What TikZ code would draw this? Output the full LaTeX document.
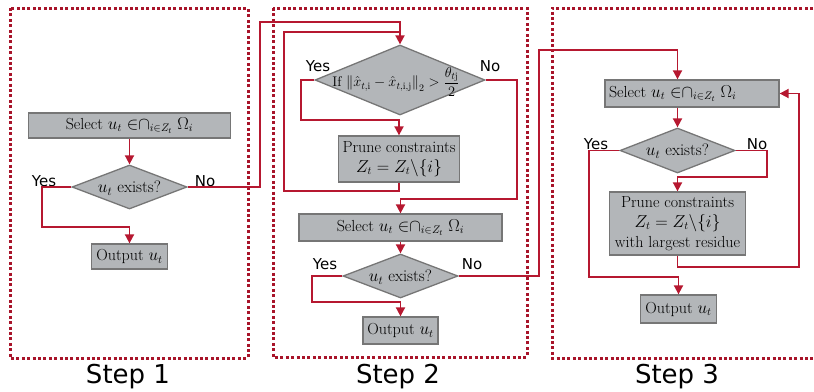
\documentclass[tikz,border=0pt]{standalone}
\usepackage{amsmath}
\usepackage{fontspec}
\newfontfamily\labelfont{DejaVu Sans}
\usetikzlibrary{shapes.geometric,arrows.meta,calc}
\definecolor{boxfill}{RGB}{179,182,185}
\definecolor{boxline}{RGB}{118,118,118}
\definecolor{flowred}{RGB}{182,24,48}
\definecolor{dotred}{RGB}{168,20,42}
\newcommand{\selecttext}{Select $u_t\ {\in}{\cap}_{i\in Z_t}\ \Omega_i$}
\tikzset{
  procbox/.style={draw=boxline, fill=boxfill, line width=1.3pt, inner sep=0pt, align=center, font=\fontsize{16}{20}\selectfont},
  decbox/.style={diamond, draw=boxline, fill=boxfill, line width=1.3pt, inner sep=0pt},
  dectext/.style={font=\fontsize{16.5}{17}\selectfont, inner sep=0pt},
  flow/.style={draw=flowred, line width=1.8pt},
  arr/.style={flow, -{Triangle[length=9pt,width=9pt]}},
  steparea/.style={draw=dotred, line width=3pt, dash pattern=on 3pt off 2.4pt},
  yesno/.style={font=\labelfont\fontsize{15}{16}\selectfont, inner sep=0pt},
  steplabel/.style={font=\labelfont\fontsize{26}{28}\selectfont, inner sep=0pt},
}
\begin{document}
\begin{tikzpicture}[x=1pt,y=-1pt]
\useasboundingbox (0,0) rectangle (814,391);
% step areas
\draw[steparea] (10,8) rectangle (248,358);
\draw[steparea] (273,8) rectangle (527,357);
\draw[steparea] (813,8) -- (552,8) -- (552,358) -- (813,358);
\node[steplabel] (lab1) at (128,377) {Step 1};
\node[steplabel] (lab2) at (398,377) {Step 2};
\node[steplabel] (lab3) at (677,377) {Step 3};

% ---- Step 1
\node[procbox, minimum width=202pt, minimum height=25pt] (s1sel) at (129.5,125.5) {\selecttext};
\node[decbox, minimum width=115pt, minimum height=44pt] (d1) at (129.5,187) {};
\node[dectext] (d1t) at (129.5,188) {$u_t$ exists?};
\node[procbox, minimum width=76pt, minimum height=25pt] (o1) at (129.5,256.5) {Output $u_t$};
\node[yesno] (y1) at (44,181) {Yes};
\node[yesno] (n1) at (205,181) {No};

% ---- Step 2
\node[decbox, minimum width=170pt, minimum height=70pt] (d2a) at (400,80) {};
\node[dectext, font=\fontsize{14}{15}\selectfont] (d2at) at (396,82) {If $\left\Vert\hat{x}_{t,\mathrm{i}}-\hat{x}_{t,\mathrm{i},\mathrm{j}}\right\Vert_2>\dfrac{\theta_{t\mathrm{j}}}{2}$};
\node[procbox, minimum width=121pt, minimum height=46pt] (p2) at (399,159) {Prune constraints\\$Z_t=Z_t\backslash\{i\}$};
\node[procbox, minimum width=203pt, minimum height=27pt] (s2sel) at (400.5,227.5) {\selecttext};
\node[decbox, minimum width=115pt, minimum height=44pt] (d2b) at (400.5,276) {};
\node[dectext] (d2bt) at (400.5,277) {$u_t$ exists?};
\node[procbox, minimum width=75pt, minimum height=27pt] (o2) at (400.5,330.5) {Output $u_t$};
\node[yesno] (y2a) at (318,66) {Yes};
\node[yesno] (n2a) at (490,66) {No};
\node[yesno] (y2b) at (325,264) {Yes};
\node[yesno] (n2b) at (472,264) {No};

% ---- Step 3
\node[procbox, minimum width=174pt, minimum height=27pt] (s3sel) at (692,93.5) {\makebox[174pt][l]{\hspace{4pt}\selecttext}};
\node[decbox, minimum width=115pt, minimum height=45pt] (d3) at (677.5,150.5) {};
\node[dectext] (d3t) at (677.5,151.5) {$u_t$ exists?};
\node[procbox, minimum width=136pt, minimum height=63pt] (p3) at (677.5,223.5) {Prune constraints\\$Z_t=Z_t\backslash\{i\}$\\with largest residue};
\node[procbox, minimum width=76pt, minimum height=28pt] (o3) at (678.5,309) {Output $u_t$};
\node[yesno] (y3) at (596,144) {Yes};
\node[yesno] (n3) at (757,144) {No};

% ---- connectors step 1
\draw[arr] (s1sel.south) -- (d1.north);
\draw[arr] (d1.west) -| (42,227) -| (o1.north);
\draw[arr] (d1.east) -| (260,22) -| (d2a.north);

% ---- connectors step 2
\draw[arr] (d2a.west) -| (301,120) -| (p2.north);
\draw[flow] (p2.south) |- (284,191) |- (d2a.north |- 0,32);
\draw[arr] (d2a.east) -| (517,199) -| (s2sel.north);
\draw[arr] (s2sel.south) -- (d2b.north);
\draw[arr] (d2b.west) -| (312,302) -| (o2.north);
\draw[arr] (d2b.east) -| (539,50) -| (d3.north |- s3sel.north);

% ---- connectors step 3
\draw[arr] (d3.north |- s3sel.south) -- (d3.north);
\draw[arr] (d3.east) -| (767,177) -| (p3.north);
\draw[arr] (p3.south) |- (799,267) |- (s3sel.east);
\draw[arr] (d3.west) -| (589,277) -| (o3.north);
\end{tikzpicture}
\end{document}
